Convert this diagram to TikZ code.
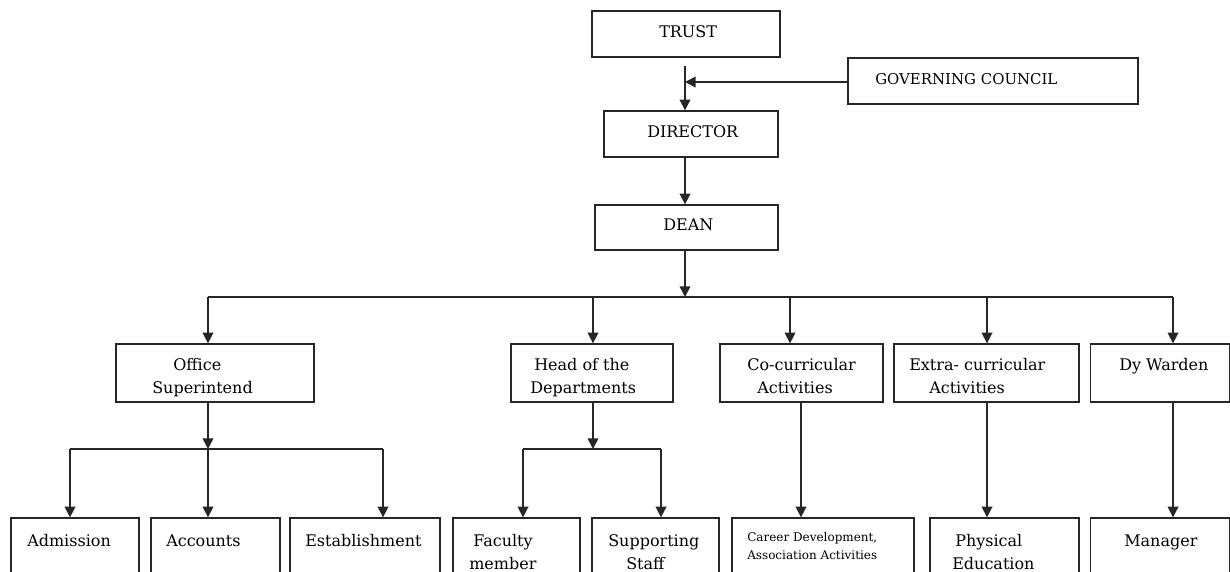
\documentclass[tikz,border=0pt]{standalone}
\usepackage{fontspec}
\setmainfont{DejaVu Serif}
\usetikzlibrary{arrows.meta}
\begin{document}
\begin{tikzpicture}[x=0.75pt,y=-0.75pt,
  box/.style={draw=black!85, line width=1pt, inner sep=0pt},
  txt/.style={inner sep=0pt, anchor=base west, font=\fontsize{12pt}{14pt}\selectfont},
  small/.style={inner sep=0pt, anchor=base west, font=\fontsize{9pt}{11pt}\selectfont},
  ln/.style={draw=black!85, line width=1.2pt},
  arr/.style={ln, -{Triangle[length=8pt,width=8pt]}}]
\useasboundingbox (0,0) rectangle (1230,571);
\clip (0,0) rectangle (1230,571);
% boxes
\node[box, minimum width=141pt, minimum height=34.5pt] (trust) at (686,34) {};
\node[box, minimum width=217.5pt, minimum height=34.5pt] (gov) at (993,81) {};
\node[box, minimum width=130.5pt, minimum height=34.5pt] (director) at (691,134) {};
\node[box, minimum width=137.25pt, minimum height=33.75pt] (dean) at (686.5,227.5) {};
\node[box, minimum width=148.5pt, minimum height=43.5pt] (office) at (215,373) {};
\node[box, minimum width=121.5pt, minimum height=43.5pt] (hod) at (592,373) {};
\node[box, minimum width=122.25pt, minimum height=43.5pt] (co) at (801.5,373) {};
\node[box, minimum width=138.75pt, minimum height=43.5pt] (ex) at (986.5,373) {};
\node[box, minimum width=104.25pt, minimum height=43.5pt] (dy) at (1160,373) {};
\node[box, minimum width=96pt, minimum height=61.5pt] (adm) at (75,559) {};
\node[box, minimum width=96.75pt, minimum height=61.5pt] (acc) at (215.5,559) {};
\node[box, minimum width=112.5pt, minimum height=61.5pt] (est) at (365,559) {};
\node[box, minimum width=95.25pt, minimum height=61.5pt] (fac) at (516.5,559) {};
\node[box, minimum width=95.25pt, minimum height=61.5pt] (sup) at (655.5,559) {};
\node[box, minimum width=136.5pt, minimum height=61.5pt] (car) at (823,559) {};
\node[box, minimum width=111.75pt, minimum height=61.5pt] (phy) at (1004.5,559) {};
\node[box, minimum width=104.25pt, minimum height=61.5pt] (man) at (1160,559) {};
% texts
\node[txt] (tTrust) at (659,37) {TRUST};
\node[txt, font=\fontsize{11.2pt}{14pt}\selectfont] (tGov) at (875,84) {GOVERNING COUNCIL};
\node[txt] (tDir) at (647,137) {DIRECTOR};
\node[txt] (tDean) at (663,230) {DEAN};
\node[txt] (tOff1) at (173,370) {Office};
\node[txt] (tOff2) at (152,393) {Superintend};
\node[txt] (tHod1) at (534,370) {Head of the};
\node[txt] (tHod2) at (530,393) {Departments};
\node[txt] (tCo1) at (747,370) {Co-curricular};
\node[txt] (tCo2) at (757,393) {Activities};
\node[txt] (tEx1) at (909,370) {Extra- curricular};
\node[txt] (tEx2) at (929,393) {Activities};
\node[txt] (tDy) at (1119,370) {Dy Warden};
\node[txt] (tAdm) at (27,546) {Admission};
\node[txt] (tAcc) at (166,546) {Accounts};
\node[txt] (tEst) at (305,546) {Establishment};
\node[txt] (tFac1) at (473,546) {Faculty};
\node[txt] (tFac2) at (469,569) {member};
\node[txt] (tSup1) at (608,546) {Supporting};
\node[txt] (tSup2) at (626,569) {Staff};
\node[small] (tCar1) at (747,541) {Career Development,};
\node[small] (tCar2) at (747,559) {Association Activities};
\node[txt] (tPhy1) at (955,546) {Physical};
\node[txt] (tPhy2) at (952,569) {Education};
\node[txt] (tMan) at (1124,546) {Manager};
% junction coordinates
\coordinate (t0) at (685,66);
\coordinate (b0) at (685,297);
\coordinate (b1) at (208,297);
\coordinate (b2) at (593,297);
\coordinate (b3) at (790,297);
\coordinate (b4) at (987,297);
\coordinate (b5) at (1173,297);
\coordinate (cc) at (801,402);
\coordinate (o1) at (208,449);
\coordinate (oa) at (70,449);
\coordinate (oc) at (383,449);
\coordinate (h1) at (593,449);
\coordinate (ha) at (523,449);
\coordinate (hb) at (661,449);
% connectors
\draw[arr] (t0) -- (director.north -| t0);
\draw[arr] (gov.west |- 0,82) -- (t0 |- 0,82);
\draw[arr] (director.south -| t0) -- (dean.north -| t0);
\draw[arr] (dean.south -| b0) -- (b0);
\draw[ln] (b1) -- (b5);
\draw[arr] (b1) -- (office.north -| b1);
\draw[arr] (b2) -- (hod.north -| b2);
\draw[arr] (b3) -- (co.north -| b3);
\draw[arr] (b4) -- (ex.north -| b4);
\draw[arr] (b5) -- (dy.north -| b5);
\draw[arr] (office.south -| o1) -- (o1);
\draw[ln] (oa) -- (oc);
\draw[arr] (oa) -- (adm.north -| oa);
\draw[arr] (o1) -- (acc.north -| o1);
\draw[arr] (oc) -- (est.north -| oc);
\draw[arr] (hod.south -| h1) -- (h1);
\draw[ln] (ha) -- (hb);
\draw[arr] (ha) -- (fac.north -| ha);
\draw[arr] (hb) -- (sup.north -| hb);
\draw[arr] (co.south -| cc) -- (car.north -| cc);
\draw[arr] (ex.south -| b4) -- (phy.north -| b4);
\draw[arr] (dy.south -| b5) -- (man.north -| b5);
\end{tikzpicture}
\end{document}
